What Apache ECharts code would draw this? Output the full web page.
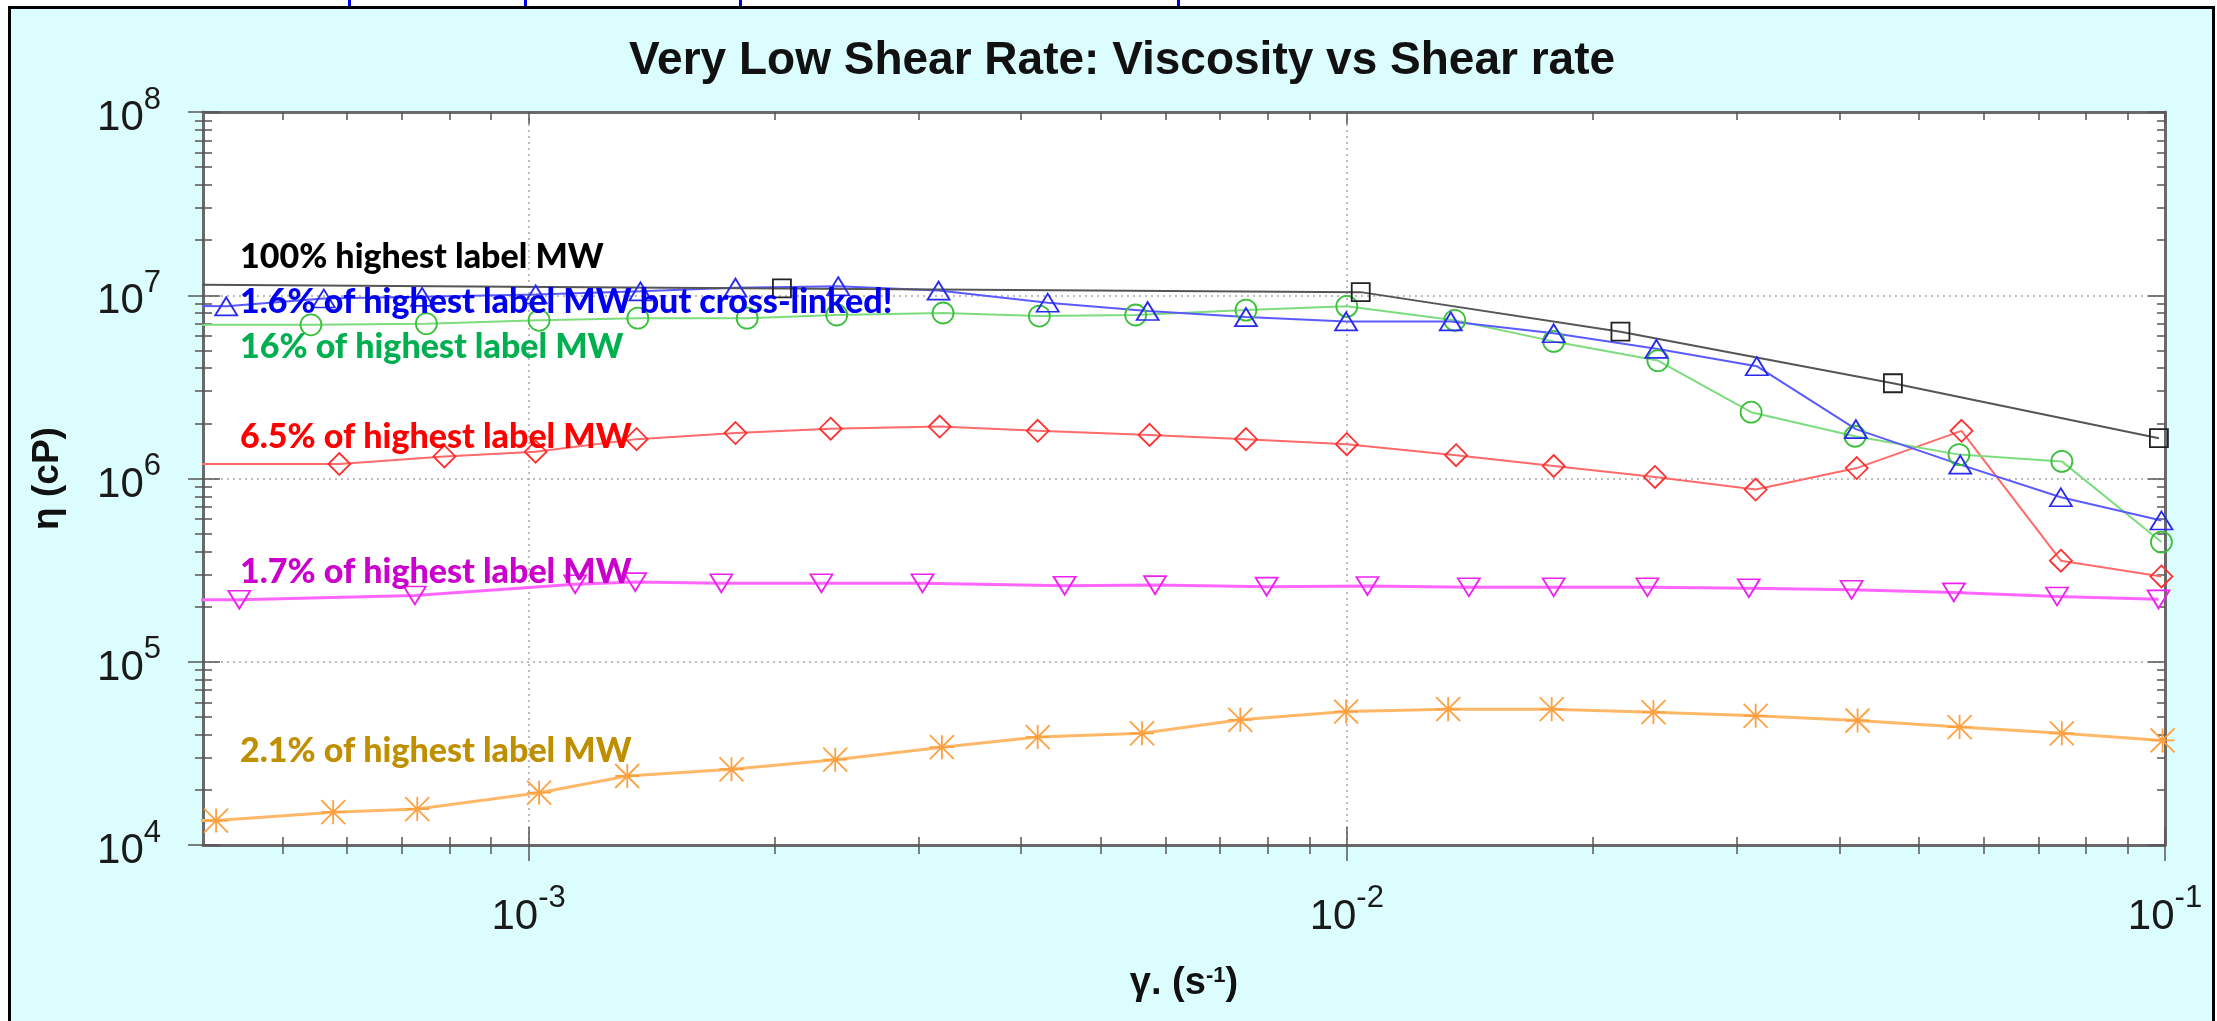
<!DOCTYPE html>
<html>
<head>
<meta charset="utf-8">
<title>Very Low Shear Rate: Viscosity vs Shear rate</title>
<script src="https://cdn.jsdelivr.net/npm/echarts@6/dist/echarts.min.js"></script>
<style>
  html, body { margin: 0; padding: 0; background: #ffffff; }
  #frame {
    position: absolute; left: 8px; top: 6px; width: 2207px; height: 1030px;
    box-sizing: border-box; border: 3px solid #000; background: #dcfdfd;
  }
  #chart { position: absolute; left: 0; top: 0; width: 2217px; height: 1021px; }
</style>
</head>
<body>
<div id="frame"></div>
<div id="chart"></div>
<script>
// Shear rate (s^-1) and viscosity (cP) per sample
const rateBlack = [3.2e-4, 2.04e-3, 1.04e-2, 2.16e-2, 4.65e-2, 9.83e-2];
const etaBlack  = [1.15e7, 1.09e7, 1.04e7, 6.33e6, 3.31e6, 1.66e6];

const rateBlue = [3.2e-4, 4.27e-4, 5.62e-4, 7.41e-4, 1.02e-3, 1.37e-3, 1.79e-3, 2.39e-3, 3.17e-3, 4.31e-3, 5.71e-3,
                  7.53e-3, 9.98e-3, 1.34e-2, 1.79e-2, 2.39e-2, 3.17e-2, 4.19e-2, 5.62e-2, 7.46e-2, 9.9e-2];
const etaBlue  = [8.8e6, 8.7e6, 9.6e6, 9.8e6, 1.01e7, 1.05e7, 1.1e7, 1.12e7, 1.06e7, 9.1e6, 8.2e6,
                  7.6e6, 7.2e6, 7.2e6, 6.2e6, 5.1e6, 4.1e6, 1.86e6, 1.19e6, 7.9e5, 5.9e5];

const rateGreen = [3.2e-4, 5.42e-4, 7.5e-4, 1.03e-3, 1.36e-3, 1.85e-3, 2.38e-3, 3.21e-3, 4.21e-3, 5.52e-3, 7.53e-3,
                   1.0e-2, 1.355e-2, 1.79e-2, 2.4e-2, 3.12e-2, 4.18e-2, 5.6e-2, 7.48e-2, 9.9e-2];
const etaGreen  = [6.9e6, 6.9e6, 7.0e6, 7.3e6, 7.5e6, 7.5e6, 7.8e6, 8.0e6, 7.7e6, 7.8e6, 8.3e6,
                   8.7e6, 7.3e6, 5.6e6, 4.4e6, 2.3e6, 1.7e6, 1.35e6, 1.24e6, 4.5e5];

const rateRed = [3.2e-4, 5.87e-4, 7.89e-4, 1.02e-3, 1.355e-3, 1.79e-3, 2.34e-3, 3.18e-3, 4.19e-3, 5.74e-3, 7.53e-3,
                 1.0e-2, 1.36e-2, 1.79e-2, 2.38e-2, 3.16e-2, 4.2e-2, 5.64e-2, 7.46e-2, 9.9e-2];
const etaRed  = [1.2e6, 1.2e6, 1.32e6, 1.4e6, 1.64e6, 1.77e6, 1.87e6, 1.92e6, 1.82e6, 1.73e6, 1.64e6,
                 1.54e6, 1.34e6, 1.17e6, 1.02e6, 8.7e5, 1.14e6, 1.82e6, 3.56e5, 2.92e5];

const rateMagenta = [3.2e-4, 4.43e-4, 7.26e-4, 1.14e-3, 1.35e-3, 1.72e-3, 2.28e-3, 3.03e-3, 4.52e-3, 5.83e-3, 7.98e-3,
                     1.06e-2, 1.41e-2, 1.79e-2, 2.33e-2, 3.1e-2, 4.14e-2, 5.52e-2, 7.38e-2, 9.82e-2];
const etaMagenta  = [2.18e5, 2.18e5, 2.3e5, 2.65e5, 2.72e5, 2.68e5, 2.68e5, 2.68e5, 2.6e5, 2.62e5, 2.57e5,
                     2.59e5, 2.55e5, 2.55e5, 2.55e5, 2.52e5, 2.47e5, 2.39e5, 2.27e5, 2.19e5];

const rateOrange = [3.2e-4, 4.15e-4, 5.77e-4, 7.31e-4, 1.03e-3, 1.32e-3, 1.77e-3, 2.37e-3, 3.2e-3, 4.19e-3, 5.62e-3,
                    7.41e-3, 9.98e-3, 1.33e-2, 1.78e-2, 2.37e-2, 3.16e-2, 4.21e-2, 5.61e-2, 7.48e-2, 9.93e-2];
const etaOrange  = [1.36e4, 1.36e4, 1.51e4, 1.57e4, 1.93e4, 2.38e4, 2.59e4, 2.92e4, 3.42e4, 3.88e4, 4.07e4,
                    4.82e4, 5.35e4, 5.51e4, 5.51e4, 5.31e4, 5.07e4, 4.78e4, 4.4e4, 4.07e4, 3.72e4];

// Axis ranges and labelled ticks
const xRange = [4e-4, 0.1];
const yRange = [1e4, 1e8];
const xMajorTicks = [1e-3, 1e-2, 1e-1];
const yMajorTicks = [1e4, 1e5, 1e6, 1e7, 1e8];

// Sample annotations
const noteTexts  = ['100% highest label MW', '1.6% of highest label MW but cross-linked!', '16% of highest label MW',
                    '6.5% of highest label MW', '1.7% of highest label MW', '2.1% of highest label MW'];
const noteColors = ['#000000', '#0000ee', '#00b050', '#ff0000', '#cc00cc', '#bf8f00'];
const noteY      = [257, 302, 347, 437, 572, 751];

// Intermediate (2..9) log ticks inside a range
function minorTicks(lo, hi) {
  const out = [];
  for (let d = Math.floor(Math.log10(lo)); d <= Math.ceil(Math.log10(hi)); d++) {
    for (let m = 2; m <= 9; m++) {
      const v = m * Math.pow(10, d);
      if (v > lo * 1.0001 && v < hi * 0.9999) out.push(v);
    }
  }
  return out;
}
const xMinor = minorTicks(xRange[0], xRange[1]);
const yMinor = minorTicks(yRange[0], yRange[1]);

const pairs = (xs, ys) => xs.map((x, i) => [x, ys[i]]);

const tickColor = '#555';
const powLabel = v => '{b|10}{e|' + Math.round(Math.log10(v)) + '}';
const powRich = {
  b: { fontSize: 42, fontFamily: 'Liberation Sans', color: '#1a1a1a', verticalAlign: 'bottom' },
  e: { fontSize: 31, fontFamily: 'Liberation Sans', color: '#1a1a1a', verticalAlign: 'bottom', padding: [0, 0, 24, 0] }
};

function tickAxis(range, position, values, length, inside, lineShow) {
  return {
    type: 'log', logBase: 10, min: range[0], max: range[1], position: position,
    axisLine: { show: !!lineShow, lineStyle: { color: '#6a6a6a', width: 3 } },
    axisTick: { show: true, customValues: values, inside: inside, length: length,
                lineStyle: { color: tickColor, width: 1.5 } },
    axisLabel: { show: false },
    splitLine: { show: false },
    minorTick: { show: false }
  };
}

const xAxes = [
  {
    type: 'log', logBase: 10, min: xRange[0], max: xRange[1], position: 'bottom',
    axisLine: { show: true, lineStyle: { color: '#6a6a6a', width: 3 } },
    axisTick: { show: true, customValues: xMajorTicks, inside: false, length: 16,
                lineStyle: { color: tickColor, width: 1.5 } },
    axisLabel: { show: true, customValues: xMajorTicks, formatter: powLabel, rich: powRich, margin: 38 },
    splitLine: { show: true, lineStyle: { color: '#a8a8a8', width: 1.5, type: [2, 4] } },
    name: '{n|γ. (s}{s|-1}{n|)}',
    nameLocation: 'middle', nameGap: 120,
    nameTextStyle: {
      rich: {
        n: { fontSize: 38, fontWeight: 'bold', fontFamily: 'Liberation Sans', color: '#111', verticalAlign: 'bottom' },
        s: { fontSize: 22, fontWeight: 'bold', fontFamily: 'Liberation Sans', color: '#111', verticalAlign: 'bottom', padding: [0, 0, 16, 0] }
      }
    }
  },
  tickAxis(xRange, 'bottom', xMajorTicks, 18, true),
  tickAxis(xRange, 'bottom', xMinor, 9, false),
  tickAxis(xRange, 'bottom', xMinor, 8, true),
  tickAxis(xRange, 'top', xMajorTicks, 12, true, true),
  tickAxis(xRange, 'top', xMinor, 8, true)
];

const yAxes = [
  {
    type: 'log', logBase: 10, min: yRange[0], max: yRange[1], position: 'left',
    axisLine: { show: true, lineStyle: { color: '#6a6a6a', width: 3 } },
    axisTick: { show: true, customValues: yMajorTicks, inside: false, length: 15,
                lineStyle: { color: tickColor, width: 1.5 } },
    axisLabel: { show: true, customValues: yMajorTicks, formatter: powLabel, rich: powRich, margin: 42 },
    splitLine: { show: true, lineStyle: { color: '#a8a8a8', width: 1.5, type: [2, 4] } },
    name: 'η (cP)',
    nameLocation: 'middle', nameGap: 137,
    nameTextStyle: { fontSize: 37, fontWeight: 'bold', fontFamily: 'Liberation Sans', color: '#111' }
  },
  tickAxis(yRange, 'left', yMajorTicks, 17, true),
  tickAxis(yRange, 'left', yMinor, 8, false),
  tickAxis(yRange, 'left', yMinor, 9, true),
  tickAxis(yRange, 'right', yMajorTicks, 17, true, true),
  tickAxis(yRange, 'right', yMinor, 8, true)
];

function sampleSeries(name, xs, ys, symbol, size, symColor, lineColor, lineWidth, rotate) {
  return {
    type: 'line', name: name, data: pairs(xs, ys),
    xAxisIndex: 0, yAxisIndex: 0, clip: true,
    symbol: symbol, symbolSize: size, symbolRotate: rotate || 0, showAllSymbol: true,
    itemStyle: { color: 'rgba(0,0,0,0)', borderColor: symColor, borderWidth: 1.8 },
    lineStyle: { color: lineColor, width: lineWidth },
    emphasis: { disabled: true },
    animation: false
  };
}

const asterisk = 'path://M0,0L20,20M20,0L0,20M10,0L10,20M0,10L20,10';

const series = [
  sampleSeries(noteTexts[4], rateMagenta, etaMagenta, 'triangle', [22, 18], '#ee22ee', '#ff66ff', 3, 180),
  sampleSeries(noteTexts[5], rateOrange, etaOrange, asterisk, [24, 24], '#ffa040', '#ffb868', 3),
  sampleSeries(noteTexts[3], rateRed, etaRed, 'diamond', [22, 22], '#ff3030', '#ff6a6a', 2),
  sampleSeries(noteTexts[2], rateGreen, etaGreen, 'circle', 21, '#3cc03c', '#7ddc7d', 2),
  sampleSeries(noteTexts[1], rateBlue, etaBlue, 'triangle', [22, 18], '#2a2aee', '#5a5aff', 2),
  sampleSeries(noteTexts[0], rateBlack, etaBlack, 'rect', 18, '#222222', '#555555', 2)
];

const graphics = noteTexts.map((t, i) => ({
  type: 'text', z: 100, x: 240, y: noteY[i],
  style: { text: t, fill: noteColors[i], font: '900 34px Lato', verticalAlign: 'middle', align: 'left' }
}));
// clipped descenders of the line of text above the frame
[348, 524, 739, 1177].forEach(x => graphics.push({
  type: 'rect', z: 100, shape: { x: x, y: 0, width: 3, height: 6 }, style: { fill: '#0000ee' }
}));

const chart = echarts.init(document.getElementById('chart'), null, { renderer: 'canvas' });
chart.setOption({
  backgroundColor: 'transparent',
  animation: false,
  title: {
    text: 'Very Low Shear Rate: Viscosity vs Shear rate',
    left: 1117, top: 33, textAlign: 'center',
    textStyle: { fontSize: 46, fontWeight: 'bold', fontFamily: 'Liberation Sans', color: '#111' }
  },
  grid: { left: 203, right: 52, top: 112, bottom: 176, show: true, backgroundColor: '#ffffff', borderWidth: 0 },
  xAxis: xAxes,
  yAxis: yAxes,
  series: series,
  graphic: { elements: graphics }
});
</script>
</body>
</html>
